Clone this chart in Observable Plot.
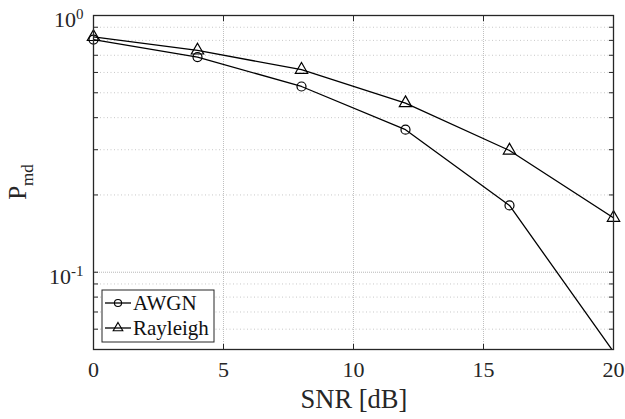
<!DOCTYPE html>
<html><head><meta charset="utf-8">
<script src="https://cdn.jsdelivr.net/npm/d3@7"></script>
<script src="https://cdn.jsdelivr.net/npm/@observablehq/plot@0.6"></script>
<style>body{margin:0;background:#fff} #chart{width:625px;height:419px} #chart svg text{font-family:'Liberation Serif','Times New Roman',serif !important}</style>
</head><body><div id="chart"></div>
<script>
const snr = [0, 4, 8, 12, 16, 20];
const awgn = [0.806, 0.689, 0.529, 0.359, 0.182, 0.049];
const rayleigh = [0.825, 0.731, 0.615, 0.456, 0.298, 0.163];
const seriesNames = ["AWGN", "Rayleigh"];
const xTicks = [0, 5, 10, 15, 20];
const xGrid = [5, 10, 15];
const yMajor = [0.1, 1];
const yMinor = [0.06, 0.07, 0.08, 0.09, 0.2, 0.3, 0.4, 0.5, 0.6, 0.7, 0.8, 0.9];
const yTickLabels = ["10^-1", "10^0"];
const xLabel = "SNR [dB]";

const rows = snr.flatMap((s, i) => [
  {snr: s, p: awgn[i], series: seriesNames[0]},
  {snr: s, p: rayleigh[i], series: seriesNames[1]}
]);
const yDomain = [0.05, 1];
const inside = d => d.p >= yDomain[0] && d.p <= yDomain[1];
const font = "'Liberation Serif','Times New Roman',serif";

const plot = Plot.plot({
  width: 625, height: 419,
  marginLeft: 93, marginRight: 12, marginTop: 15, marginBottom: 70,
  style: {fontFamily: font, background: "#fff", color: "#262626"},
  x: {domain: [0, 20]},
  y: {type: "log", domain: yDomain},
  marks: [
    Plot.ruleY(yMinor, {stroke: "#c8c8c8", strokeDasharray: "1,2.5"}),
    Plot.ruleY(yMajor, {stroke: "#b8b8b8", strokeDasharray: "1,1"}),
    Plot.ruleX(xGrid, {stroke: "#c0c0c0", strokeDasharray: "1,1"}),
    Plot.axisX({ticks: xTicks, tickSize: 0, tickPadding: 12, fontSize: 22, label: null, tickFormat: d => String(d)}),
    Plot.axisX({ticks: xTicks, tickSize: -5, tickFormat: () => "", label: null}),
    Plot.axisX({anchor: "top", ticks: xTicks, tickSize: -5, tickFormat: () => "", label: null}),
    Plot.axisY({ticks: yMajor, tickSize: 0, tickPadding: 10, fontSize: 22, label: null,
      tickFormat: d => yTickLabels[yMajor.indexOf(d)]}),
    Plot.axisY({ticks: [...yMajor, ...yMinor], tickSize: -5, tickFormat: () => "", label: null}),
    Plot.axisY({anchor: "right", ticks: [...yMajor, ...yMinor], tickSize: -5, tickFormat: () => "", label: null}),
    Plot.line(rows, {x: "snr", y: "p", z: "series", stroke: "#000", strokeWidth: 1.3, clip: true}),
    Plot.dot(rows.filter(d => d.series === seriesNames[0] && inside(d)), {x: "snr", y: "p", r: 4.5, stroke: "#000", fill: "none", symbol: "circle", strokeWidth: 1.2}),
    Plot.dot(rows.filter(d => d.series === seriesNames[1] && inside(d)), {x: "snr", y: "p", r: 4.6, stroke: "#000", fill: "none", symbol: "triangle", strokeWidth: 1.2}),
    Plot.frame({stroke: "#262626", strokeWidth: 1.3})
  ]
});

const svg = d3.select(plot);
svg.selectAll('g[aria-label="x-axis tick label"] text').style("font-size", "22px");
// superscript y tick labels
svg.selectAll('g[aria-label="y-axis tick label"] text').each(function() {
  const t = d3.select(this);
  const parts = t.text().split("^");
  if (parts.length < 2) return;
  t.text("").attr("dy", "0.22em").style("font-size", "22px");
  t.append("tspan").text(parts[0]);
  t.append("tspan").style("font-size", "15px").attr("dy", "-0.55em").text(parts[1]);
});

// y label P_md
const yl = svg.append("text")
  .attr("transform", "translate(26,182) rotate(-90)")
  .attr("text-anchor", "middle")
  .style("font-size", "25px").attr("fill", "#262626");
yl.append("tspan").text("P");
yl.append("tspan").style("font-size", "17px").attr("dy", 7).text("md");

// x label
svg.append("text")
  .attr("x", 354).attr("y", 408)
  .attr("text-anchor", "middle")
  .style("font-size", "26.5px").attr("fill", "#262626")
  .text(xLabel);

// legend
const lg = svg.append("g").attr("fill", "#262626");
lg.append("rect").attr("x", 102).attr("y", 290).attr("width", 112).attr("height", 52)
  .attr("fill", "#fff").attr("stroke", "#262626").attr("stroke-width", 1);
const symbols = [d3.symbolCircle, d3.symbolTriangle];
seriesNames.forEach((name, i) => {
  const cy = 303 + i * 25;
  lg.append("line").attr("x1", 105).attr("x2", 131).attr("y1", cy).attr("y2", cy)
    .attr("stroke", "#000").attr("stroke-width", 1.3);
  lg.append("path").attr("transform", `translate(118,${cy})`)
    .attr("d", d3.symbol(symbols[i], 40)())
    .attr("fill", "none").attr("stroke", "#000").attr("stroke-width", 1.1);
  lg.append("text").attr("x", 133).attr("y", cy + 7).attr("text-anchor", "start")
    .style("font-size", "21px").attr("fill", "#111").text(name);
});

document.getElementById("chart").appendChild(plot);
</script>
</body></html>
